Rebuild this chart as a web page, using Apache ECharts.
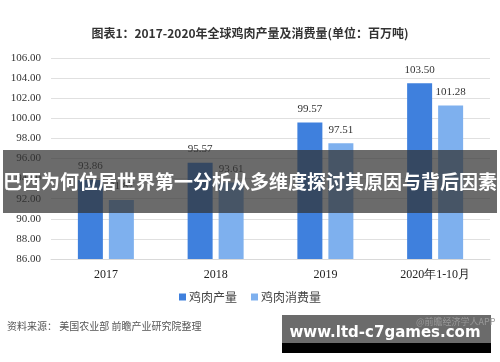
<!DOCTYPE html>
<html><head><meta charset="utf-8">
<script src="https://cdn.jsdelivr.net/npm/echarts@6/dist/echarts.min.js"></script>
<style>html,body{margin:0;padding:0;background:#fff}#c{width:500px;height:362px}</style>
</head><body><div id="c"></div>
<script>
var categories = ['2017', '2018', '2019', '2020年1-10月'];
var production = [93.86, 95.57, 99.57, 103.50];
var consumption = [91.87, 93.61, 97.51, 101.28];
var seriesNames = ['鸡肉产量', '鸡肉消费量'];
var titleText = '图表1：2017-2020年全球鸡肉产量及消费量(单位：百万吨)';
var sourceText = '资料来源： 美国农业部 前瞻产业研究院整理';
var bannerText = '巴西为何位居世界第一分析从多维度探讨其原因与背后因素';
var siteText = 'www.ltd-c7games.com';
var appText = '@前瞻经济学人APP';

var serif = '"Liberation Serif", "DejaVu Serif", serif';
var cjk = '"Noto Sans CJK SC", sans-serif';
var chart = echarts.init(document.getElementById('c'));
var labelOpt = {show: true, position: 'top', distance: 8, fontFamily: serif, fontSize: 11, color: '#333',
  formatter: function(p){ return p.value.toFixed(2); }};
chart.setOption({
  animation: false,
  title: {text: titleText, left: 'center', top: 22, textStyle: {fontFamily: cjk, fontSize: 12, fontWeight: 'bold', color: '#333'}},
  grid: {left: 51, right: 10, top: 58, bottom: 103},
  legend: {bottom: 54, left: 'center', itemWidth: 7, itemHeight: 7, itemGap: 14, icon: 'rect',
    textStyle: {fontFamily: cjk, fontSize: 12, color: '#444', padding: [0, 0, 0, -2]}},
  xAxis: {type: 'category', data: categories,
    axisLine: {lineStyle: {color: '#d9d9d9'}}, axisTick: {show: false},
    axisLabel: {fontFamily: serif, fontSize: 12, color: '#222', margin: 10}},
  yAxis: {type: 'value', min: 86, max: 106, interval: 2,
    axisLine: {show: false}, axisTick: {show: false},
    splitLine: {lineStyle: {color: '#e0e0e0'}},
    axisLabel: {fontFamily: serif, fontSize: 11, color: '#333', margin: 10, formatter: function(v){ return v.toFixed(2); }}},
  series: [
    {name: seriesNames[0], type: 'bar', data: production, barWidth: 25, barGap: '24%', itemStyle: {color: '#3f80dd'}, label: labelOpt},
    {name: seriesNames[1], type: 'bar', data: consumption, barWidth: 25, itemStyle: {color: '#7eb0ee'}, label: labelOpt}
  ],
  graphic: [
    {type: 'text', left: 7, top: 321, z: 50, style: {text: sourceText, font: '10px ' + cjk, fill: '#555'}},
    {type: 'rect', z: 100, shape: {x: 3, y: 150, width: 494, height: 63}, style: {fill: 'rgba(50,50,50,0.72)'}},
    {type: 'text', z: 101, x: 250, y: 182, style: {text: bannerText, font: 'bold 19px ' + cjk, fill: '#fff', align: 'center', verticalAlign: 'middle'}},
    {type: 'rect', z: 100, shape: {x: 282, y: 315, width: 209, height: 28}, style: {fill: '#6b6b6b'}},
    {type: 'rect', z: 100, shape: {x: 282, y: 343, width: 209, height: 10}, style: {fill: '#000'}},
    {type: 'text', z: 101, x: 416, y: 322, style: {text: appText, font: '9px ' + cjk, fill: '#999', verticalAlign: 'middle'}},
    {type: 'text', z: 102, x: 385, y: 333, style: {text: siteText, font: 'bold 15px "DejaVu Sans", sans-serif', fill: '#fff', align: 'center', verticalAlign: 'middle'}}
  ]
});
</script></body></html>
